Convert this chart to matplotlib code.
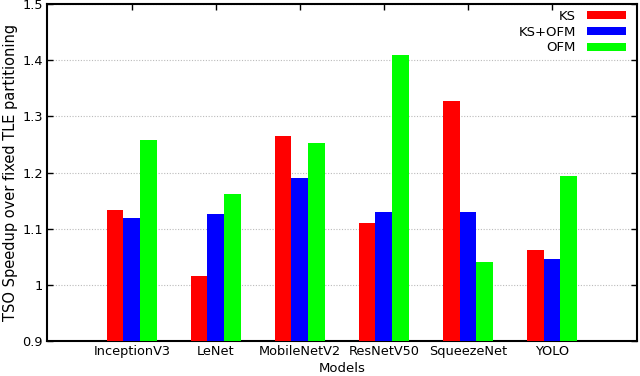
import numpy as np
import matplotlib
matplotlib.use("Agg")
import matplotlib.pyplot as plt

models = ["InceptionV3", "LeNet", "MobileNetV2", "ResNetV50", "SqueezeNet", "YOLO"]
ks = [1.134, 1.015, 1.266, 1.111, 1.327, 1.062]
ks_ofm = [1.119, 1.127, 1.190, 1.129, 1.130, 1.046]
ofm = [1.258, 1.161, 1.252, 1.410, 1.040, 1.194]

series = [("KS", ks, "#ff0000"), ("KS+OFM", ks_ofm, "#0000ff"), ("OFM", ofm, "#00ff00")]

plt.rcParams["font.family"] = "DejaVu Sans"
fig = plt.figure(figsize=(6.4, 3.76), dpi=100)
ax = fig.add_axes([0.0734, 0.093, 0.9216, 0.896])

x = np.arange(len(models))
w = 0.2
for i, (name, vals, col) in enumerate(series):
    ax.bar(x + (i - 1) * w, np.array(vals) - 0.9, w, bottom=0.9, color=col, label=name, zorder=3)

ax.set_xlim(-1.01, 6.01)
ax.set_ylim(0.9, 1.5)
ax.set_xticks(x)
ax.set_xticklabels(models, fontsize=9.3)
yt = [0.9, 1.0, 1.1, 1.2, 1.3, 1.4, 1.5]
ax.set_yticks(yt)
ax.set_yticklabels(["0.9", "1", "1.1", "1.2", "1.3", "1.4", "1.5"], fontsize=9.3)
ax.tick_params(direction="in", top=True, right=True, length=4, width=1, pad=3)
ax.grid(axis="y", color="#bbbbbb", linestyle=(0, (1, 1.5)), linewidth=0.8, zorder=0)
for s in ax.spines.values():
    s.set_linewidth(1.5)
ax.set_xlabel("Models", fontsize=9.5, labelpad=3)
ax.set_ylabel("TSO Speedup over fixed TLE partitioning", fontsize=10.5, labelpad=3)
ax.legend(loc="upper right", bbox_to_anchor=(0.992, 1.0), frameon=False, markerfirst=False,
          fontsize=9.5, handlelength=3.0, handleheight=0.55, labelspacing=0.2,
          borderaxespad=0.05, handletextpad=0.8)

fig.savefig("out.png", dpi=100)
